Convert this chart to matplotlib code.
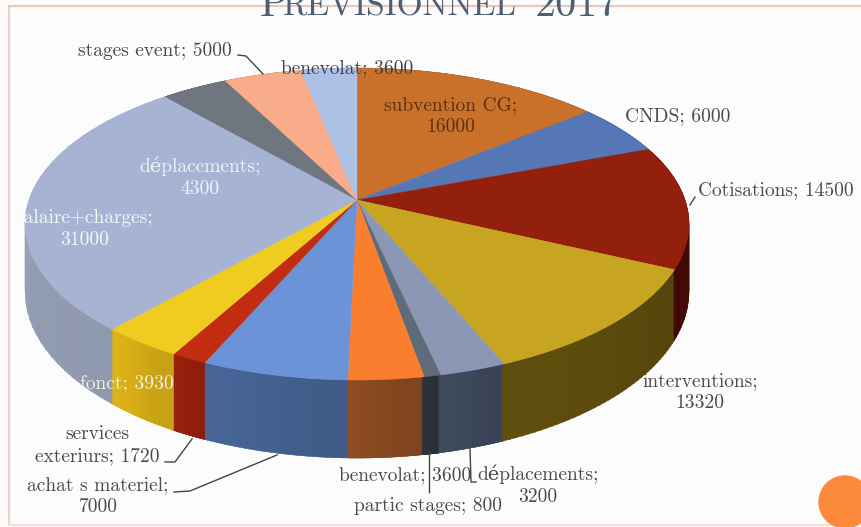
import numpy as np
import matplotlib
matplotlib.use('Agg')
import matplotlib.pyplot as plt
from matplotlib.colors import to_rgb
from matplotlib.patches import Circle

# slices clockwise from 12 o'clock
categories = ['subvention CG', 'CNDS', 'Cotisations', 'interventions', 'déplacements',
              'partic stages', 'benevolat', 'achat s materiel', 'services exteriurs',
              'fonct', 'salaire+charges', 'déplacements', 'stages event', 'benevolat']
values = [16000, 6000, 14500, 13320, 3200, 800, 3600, 7000, 1720, 3930, 31000, 4300, 5000, 3600]
top_colors = ['#c9702a', '#5577b5', '#92200d', '#c8a520', '#8c97b5', '#5f6b78', '#fb7e2e',
              '#6c92d8', '#c22c10', '#f0cc20', '#a6b3d3', '#6f7680', '#f9ac8a', '#adc0e6']
wall_colors = ['#8a4a18', '#3a5080', '#3f0804', '#5b4a0c', '#3c4659', '#2d3038', '#86481f',
               '#43608f', '#93200c', '#d2aa15', '#98a2b8', '#555a62', '#b08060', '#8090b0']

CX, CY = 357, 200
A, B, K = 328, 152.3, 0.154
DEPTH = 66


def project(theta, r=1.0, drop=0):
    u = r * np.sin(theta)
    v = -r * np.cos(theta)
    w = 1 / (1 - K * v)
    return CX + A * u * w, CY + B * v * w + drop * w


fig = plt.figure(figsize=(8.61, 5.27), dpi=100, facecolor='#fcfcfc')
ax = fig.add_axes([0, 0, 1, 1])
ax.set_xlim(0, 861)
ax.set_ylim(527, 0)
ax.axis('off')

# slide frame
ax.plot([9, 9], [6, 525], color='#ecd2c8', lw=1.6)
ax.plot([9, 861], [6, 6], color='#e8c8bc', lw=1.6)
ax.plot([9, 861], [525, 525], color='#f8dcd8', lw=1.6)
ax.add_patch(Circle((845, 502), 26, color='#fd8a3a', zorder=5))

edges = np.cumsum([0] + values) / sum(values) * 2 * np.pi

# walls, far ones first, shaded a little along the arc
order = sorted(range(len(values)), key=lambda i: -np.cos((edges[i] + edges[i + 1]) / 2), reverse=True)
for i in order:
    t = np.linspace(edges[i], edges[i + 1], 40)
    base = np.array(to_rgb(wall_colors[i]))
    for j in range(len(t) - 1):
        seg = np.array([t[j], t[j + 1] + 0.005])
        x1, y1 = project(seg)
        x2, y2 = project(seg[::-1], drop=DEPTH)
        shade = 1 + 0.05 * np.sin((t[j] - edges[i]) / (edges[i + 1] - edges[i]) * np.pi - np.pi / 2)
        ax.fill(np.r_[x1, x2], np.r_[y1, y2], color=np.clip(base * shade, 0, 1), lw=0.3, zorder=1)

# top face
for i in range(len(values)):
    t = np.linspace(edges[i], edges[i + 1], 60)
    x, y = project(t)
    ax.fill(np.r_[CX, x], np.r_[CY, y], color=top_colors[i], lw=0.3, zorder=2)

serif = ['cmr10', 'DejaVu Serif']
dark = '#4a4a4a'
labels = [
    (451, 116, 'subvention CG;\n16000', '#5a3010'),
    (678, 116, 'CNDS; 6000', dark),
    (776, 190, 'Cotisations; 14500', dark),
    (700, 392, 'interventions;\n13320', dark),
    (538, 485, 'déplacements;\n3200', dark),
    (428, 506, 'partic stages; 800', dark),
    (405, 475, 'benevolat; 3600', dark),
    (98, 496, 'achat s materiel;\n7000', dark),
    (97, 445, 'services\nexteriurs; 1720', dark),
    (127, 383, 'fonct; 3930', '#f4f0e0'),
    (85, 229, 'salaire+charges;\n31000', '#f4f6fa'),
    (200, 177, 'déplacements;\n4300', '#f0f2f8'),
    (155, 51, 'stages event; 5000', dark),
    (347, 68, 'benevolat; 3600', '#3c4050'),
]
for x, y, s, c in labels:
    ax.text(x, y, s, ha='center', va='center', family=serif, fontsize=14, color=c,
            linespacing=1.3, zorder=6)

leaders = [
    ([238, 246, 263], [55, 56, 74]),
    ([165, 175, 192], [462, 462, 439]),
    ([174, 190, 277], [492, 491, 455]),
    ([476, 471, 470], [482, 482, 449]),
    ([429, 429], [452, 492]),
    ([690, 695], [205, 197]),
]
for xs, ys in leaders:
    ax.plot(xs, ys, color='#444444', lw=1, zorder=4)

# small-caps title, cut off by the top of the slide
title_color = '#4f5f73'
ax.text(260, 16, 'P', family=serif, fontsize=30, color=title_color, va='baseline', zorder=7)
ax.text(283, 16, 'REVISIONNEL', family=serif, fontsize=24, color=title_color, va='baseline', zorder=7)
ax.text(535, 16, '2017', family=serif, fontsize=30.5, color=title_color, va='baseline', zorder=7)

fig.savefig('out.png', dpi=100, facecolor=fig.get_facecolor())
